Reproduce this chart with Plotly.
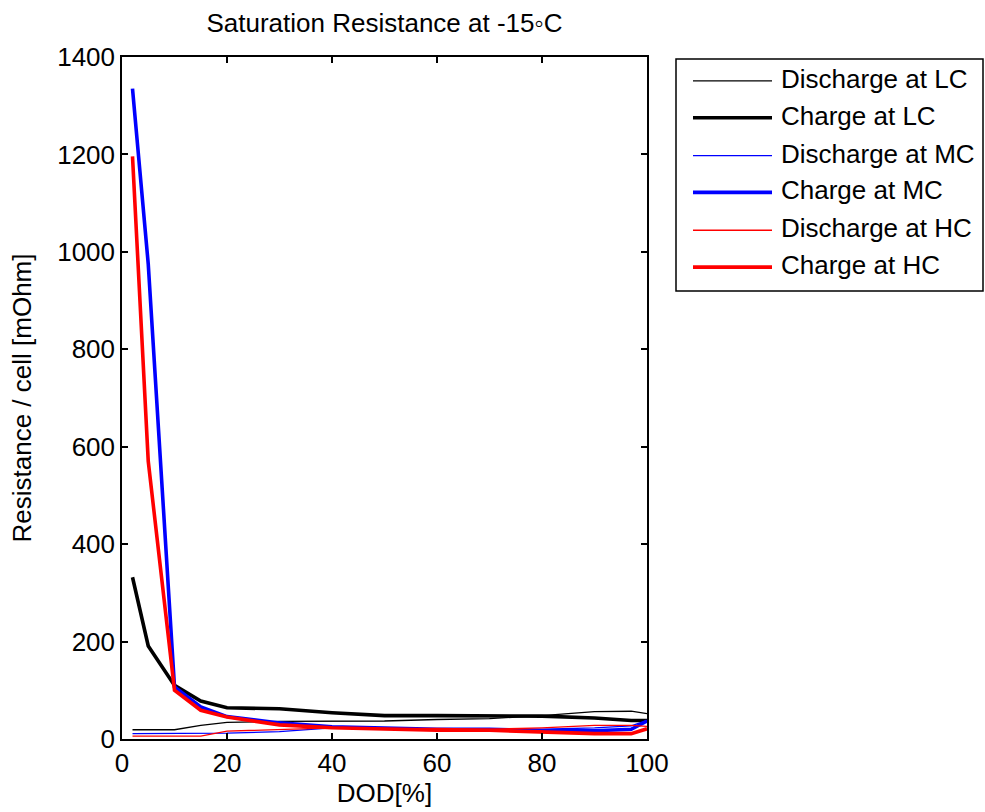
import plotly.graph_objects as go

# Depth of discharge sample points [%]
dod = [2, 5, 10, 15, 20, 30, 40, 50, 60, 70, 80, 90, 97, 100]

# Saturation resistance per cell [mOhm]
discharge_lc = [19, 19, 19, 28, 34, 36, 36, 37, 40, 42, 48, 56, 57, 52]
charge_lc = [332, 191, 110, 78, 64, 62, 54, 48, 48, 47, 47, 43, 38, 38]
discharge_mc = [11, 11, 11, 11, 12, 15, 23, 22, 21, 20, 20, 23, 27, 38]
charge_mc = [1335, 975, 107, 66, 46, 33, 25, 22, 20, 20, 17, 17, 20, 37]
discharge_hc = [6, 6, 6, 6, 16, 20, 23, 22, 22, 20, 23, 28, 28, 26]
charge_hc = [1196, 570, 100, 59, 45, 29, 23, 20, 18, 18, 14, 11, 11, 21]

series_names = ["Discharge at LC", "Charge at LC", "Discharge at MC",
                "Charge at MC", "Discharge at HC", "Charge at HC"]
series_values = [discharge_lc, charge_lc, discharge_mc,
                 charge_mc, discharge_hc, charge_hc]
series_colors = ["#000000", "#000000", "#0000ff", "#0000ff", "#ff0000", "#ff0000"]
series_widths = [1.3, 3.6, 1.3, 3.6, 1.3, 3.6]

x_ticks = [0, 20, 40, 60, 80, 100]
y_ticks = [0, 200, 400, 600, 800, 1000, 1200, 1400]

W, H = 985, 812
L, R, T, B = 122, 647, 57, 742  # plot area in pixels
FONT = "Liberation Sans, Arial, sans-serif"
FS = 26

fig = go.Figure()
for name, vals, col, lw in zip(series_names, series_values, series_colors, series_widths):
    fig.add_trace(go.Scatter(x=dod, y=vals, mode="lines", name=name,
                             line=dict(color=col, width=lw), showlegend=False))


def px_x(p):
    return (p - L) / (R - L)


def px_y(p):
    return (B - p) / (B - T)


# Boxed legend to the right of the axes
shapes = [dict(type="rect", xref="paper", yref="paper",
               x0=px_x(676), x1=px_x(983), y0=px_y(292), y1=px_y(59),
               line=dict(color="black", width=1.5), fillcolor="white")]
annotations = []
row_y = [81, 118, 156, 193, 231, 268]
for name, col, lw, yy in zip(series_names, series_colors, series_widths, row_y):
    shapes.append(dict(type="line", xref="paper", yref="paper",
                       x0=px_x(693), x1=px_x(772), y0=px_y(yy), y1=px_y(yy),
                       line=dict(color=col, width=lw)))
    annotations.append(dict(xref="paper", yref="paper", x=px_x(779), y=px_y(yy - 2),
                            text=name, showarrow=False, xanchor="left",
                            yanchor="middle", font=dict(family=FONT, size=FS, color="black")))

axis_common = dict(showline=True, linecolor="black", linewidth=1.5, mirror="ticks",
                   ticks="inside", ticklen=6, tickwidth=1.5, tickcolor="black",
                   showgrid=False, zeroline=False,
                   tickfont=dict(family=FONT, size=FS, color="black"))

fig.update_layout(
    width=W, height=H,
    margin=dict(l=L, r=W - R, t=T, b=H - B),
    paper_bgcolor="white", plot_bgcolor="white",
    title=dict(text="Saturation Resistance at -15\u25e6C", x=((L + R) / 2) / W,
               xanchor="center", y=1 - 23 / H, yanchor="middle", yref="container",
               font=dict(family=FONT, size=FS, color="black")),
    xaxis=dict(range=[0, 100], tickvals=x_ticks, ticktext=[str(v) for v in x_ticks],
               title=dict(text="DOD[%]", font=dict(family=FONT, size=FS, color="black"),
                          standoff=4),
               **axis_common),
    yaxis=dict(range=[0, 1400], tickvals=y_ticks, ticktext=[str(v) for v in y_ticks],
               title=dict(text="Resistance / cell [mOhm]",
                          font=dict(family=FONT, size=FS, color="black"), standoff=18),
               **axis_common),
    shapes=shapes,
    annotations=annotations,
)

fig.write_html("out.html")
